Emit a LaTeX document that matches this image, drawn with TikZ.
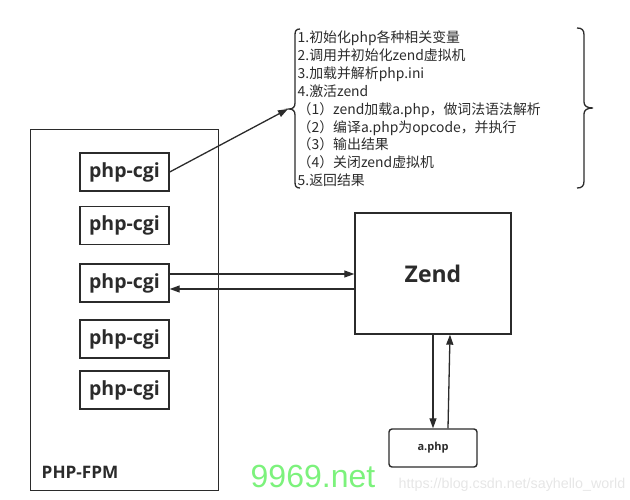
\documentclass[tikz,border=0pt]{standalone}
\usepackage{fontspec}
\setmainfont{Noto Sans CJK SC}
\newfontfamily\osans{Open Sans}
\newfontfamily\lsans{Liberation Sans}
\usetikzlibrary{arrows.meta}
\definecolor{ink}{HTML}{2B2B2B}
\definecolor{wmgreen}{HTML}{7CF27C}
\definecolor{wmgray}{HTML}{E6E6E6}
\newcommand{\fwl}{\makebox[1em][c]{（}}
\newcommand{\fwr}{\makebox[1em][c]{）}}
\begin{document}
\begin{tikzpicture}[x=1pt,y=-1pt,
  line width=1.4pt, draw=ink,
  box/.style={draw=ink, line width=1.4pt, inner sep=0pt},
  cgibox/.style={box, minimum width=89pt, minimum height=38pt, font=\osans\bfseries\fontsize{19.5}{21}\selectfont, text=ink},
  conn/.style={draw=ink, line width=1.3pt, -{Triangle[length=10pt,width=7pt]}},
  lst/.style={anchor=base west, inner sep=0pt, font=\fontsize{13.9}{16}\selectfont, text=ink},
  brace/.style={draw=ink, line width=1.3pt}]
\useasboundingbox (0,0) rectangle (630,500);
% PHP-FPM container
\node[box, line width=1.3pt, minimum width=188pt, minimum height=361pt, anchor=north west] (fpm) at (30,129) {};
\node[anchor=base west, inner sep=0pt, font=\osans\bfseries\fontsize{17.2}{19}\selectfont, text=ink] (fpmlabel) at (41,478) {PHP-FPM};
% php-cgi boxes
\node[cgibox] (c1) at (124.5,172) {php-cgi};
\node[cgibox] (c2) at (124.5,225.5) {php-cgi};
\node[cgibox] (c3) at (124.5,283) {php-cgi};
\node[cgibox] (c4) at (124.5,339) {php-cgi};
\node[cgibox] (c5) at (124.5,390) {php-cgi};
% Zend
\node[box, minimum width=156pt, minimum height=121pt, font=\osans\bfseries\fontsize{23}{26}\selectfont, text=ink] (zend) at (433,273.5) {Zend};
% a.php
\node[box, rounded corners=3pt, minimum width=88pt, minimum height=38pt, font=\osans\bfseries\fontsize{11}{13}\selectfont, text=ink] (aphp) at (433,448) {a.php};
% connectors
\coordinate (btip) at (288,109);
\draw[conn] (c1.east) -- (btip);
\draw[conn] ([yshift=9pt]c3.east) -- ([yshift=-0.5pt]zend.west);
\draw[conn] ([yshift=-15.5pt]zend.west) -- ([yshift=-6pt]c3.east);
\draw[conn] (zend.south) -- (aphp.north);
\draw[conn] ([xshift=15pt]aphp.north) -- ([xshift=17pt]zend.south);
% left brace
\draw[brace] (300,29) .. controls (296,29) and (295,31) .. (295,35) -- (295,103)
  .. controls (295,107) and (293,109) .. (289,109)
  .. controls (293,109) and (295,111) .. (295,115) -- (295,182)
  .. controls (295,186) and (296,188) .. (300,188);
% right brace
\draw[brace] (577,28) .. controls (582,28) and (584,30) .. (584,35) -- (584,102)
  .. controls (584,106) and (587,108) .. (593,108)
  .. controls (587,108) and (584,110) .. (584,114) -- (584,181)
  .. controls (584,186) and (582,188) .. (577,188);
% list text
\node[lst] (l1) at (297,43) {1.初始化php各种相关变量};
\node[lst] (l2) at (297,61) {2.调用并初始化zend虚拟机};
\node[lst] (l3) at (297,79) {3.加载并解析php.ini};
\node[lst] (l4) at (297,97) {4.激活zend};
\node[lst] (l5) at (297,115) {\fwl1\fwr zend加载a.php，做词法语法解析};
\node[lst] (l6) at (297,133) {\fwl2\fwr 编译a.php为opcode，并执行};
\node[lst] (l7) at (297,150) {\fwl3\fwr 输出结果};
\node[lst] (l8) at (297,168) {\fwl4\fwr 关闭zend虚拟机};
\node[lst] (l9) at (297,186) {5.返回结果};
% watermarks
\node[anchor=base west, inner sep=0pt, font=\lsans\fontsize{32}{34}\selectfont, text=wmgreen] (wm1) at (250,487) {9969.net};
\node[anchor=base west, inner sep=0pt, font=\lsans\fontsize{14.3}{16}\selectfont, text=wmgray] (wm2) at (398,488) {https://blog.csdn.net/sayhello\_world};
\end{tikzpicture}
\end{document}
